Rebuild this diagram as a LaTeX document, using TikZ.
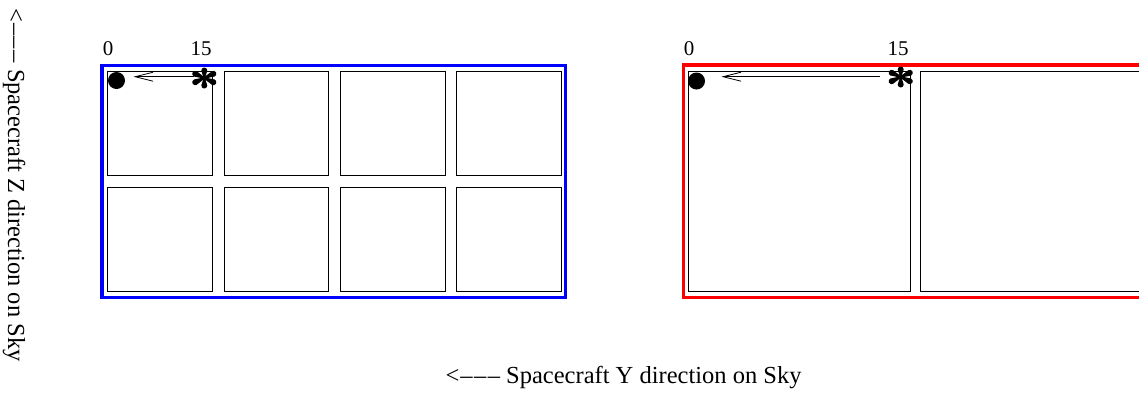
\documentclass[tikz,border=0pt]{standalone}
\usepackage{fontspec}
\setmainfont{Liberation Serif}
\usetikzlibrary{arrows.meta}
\definecolor{fblue}{RGB}{0,0,255}
\definecolor{fred}{RGB}{255,0,0}
\newcommand{\flowerarms}[1]{%
  \foreach \ang/\len in {90/7.5,270/7.5,25/10,-25/10,155/10,205/10}{
    \begin{scope}[shift={(#1)},rotate=\ang]
      \fill[black] (0,0.7) -- (\len,3) arc(90:-90:3) -- (0,-0.7) -- cycle;
    \end{scope}
  }%
}
\begin{document}
\begin{tikzpicture}[x=1pt,y=-1pt,
  bframe/.style={draw=fblue,line width=3.5pt},
  rframe/.style={draw=fred,line width=3.5pt},
  cell/.style={draw=black,line width=1pt},
  dotmark/.style={circle,fill=black,inner sep=0pt,minimum size=17pt},
  astmark/.style={circle,inner sep=0pt,minimum size=24pt},
  lbl/.style={inner sep=0pt,anchor=base,font=\fontsize{21}{24}\selectfont},
  axislbl/.style={inner sep=0pt,font=\fontsize{24.5}{28}\selectfont},
  arr/.style={line width=0.8pt,-{Straight Barb[length=18pt,width=9pt,line width=0.8pt]}}
]
\useasboundingbox (0,0) rectangle (1139,392);
\clip (0,0) rectangle (1139,392);
\fill[white] (0,0) rectangle (1139,392);

% blue frame and cells
\draw[bframe] (102,65.3) rectangle (565.7,297.6);
\foreach \xa/\xb in {107.5/212.7, 224/328.7, 340/445.3, 456.7/561}{
  \draw[cell] (\xa,71.5) rectangle (\xb,175.3);
  \draw[cell] (\xa,187.3) rectangle (\xb,291.7);
}

% red frame and cells
\draw[rframe] (683.7,65.2) rectangle (1160,297.7);
\draw[cell] (688.3,71.5) rectangle (910,291.7);
\draw[cell] (920.7,71.5) rectangle (1160,291.7);

% labels
\node[lbl] (b0) at (108,55) {0};
\node[lbl] (b15) at (201,55) {15};
\node[lbl] (r0) at (689,55) {0};
\node[lbl] (r15) at (898,55) {15};

% markers
\node[dotmark] (d1) at (116.5,80.5) {};
\node[dotmark] (d2) at (696.5,81) {};
\node[astmark] (a1) at (204.3,78) {};
\node[astmark] (a2) at (900.7,77) {};
\flowerarms{a1.center}
\flowerarms{a2.center}

\draw[arr,shorten >=8.3pt,shorten <=-2.3pt] (a1.west |- 0,76.7) -- (d1.east |- 0,76.7);
\draw[arr,shorten >=16.2pt,shorten <=8.7pt] (a2.west |- 0,76.7) -- (d2.east |- 0,76.7);

% axis labels
\node[axislbl,anchor=base] (ylab) at (623.5,383) {<\kern1pt–\kern1.5pt–\kern1.5pt– Spacecraft Y direction on Sky};
\node[axislbl,rotate=-90] (zlab) at (14,185) {<\kern1pt–\kern1.5pt–\kern1.5pt– Spacecraft Z direction on Sky};
\end{tikzpicture}
\end{document}
